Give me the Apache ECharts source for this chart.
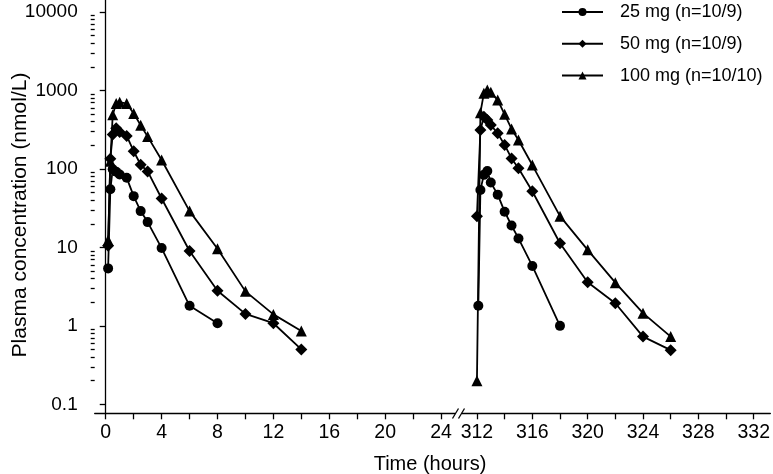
<!DOCTYPE html>
<html>
<head>
<meta charset="utf-8">
<script src="https://cdn.jsdelivr.net/npm/echarts@6/dist/echarts.min.js"></script>
<style>html,body{margin:0;padding:0;background:#fff}#c{width:773px;height:474px}</style>
</head>
<body>
<div id="c"></div>
<script>
// ---- data ----
const seriesNames = ['25 mg (n=10/9)', '50 mg (n=10/9)', '100 mg (n=10/10)'];
const seriesSymbols = ['circle', 'diamond', 'triangle'];

// period 1 (first dose)
const p1Times25 = [0.17, 0.33, 0.5, 0.75, 1, 1.5, 2, 2.5, 3, 4, 6, 8];
const p1Conc25 = [5.4, 55, 99, 92, 85, 77, 45, 29, 21, 9.8, 1.8, 1.08];
const p1Times50 = [0.17, 0.33, 0.5, 0.75, 1, 1.5, 2, 2.5, 3, 4, 6, 8, 10, 12, 14];
const p1Conc50 = [10.5, 135, 275, 330, 295, 263, 168, 113, 93, 42, 9, 2.8, 1.42, 1.08, 0.5];
const p1Times100 = [0.17, 0.33, 0.5, 0.75, 1, 1.5, 2, 2.5, 3, 4, 6, 8, 10, 12, 14];
const p1Conc100 = [12.3, 125, 490, 680, 710, 680, 510, 360, 258, 130, 29, 9.6, 2.75, 1.4, 0.86];

// period 2 (last dose)
const p2Times25 = [312.1, 312.25, 312.5, 312.75, 313, 313.5, 314, 314.5, 315, 316, 318];
const p2Conc25 = [1.8, 54, 84, 94, 67, 47, 28.5, 19, 13, 5.8, 1.0];
const p2Times50 = [312, 312.25, 312.5, 312.75, 313, 313.5, 314, 314.5, 315, 316, 318, 320, 322, 324, 326];
const p2Conc50 = [25, 313, 463, 420, 363, 284, 202, 136, 102, 52, 11.3, 3.6, 1.94, 0.73, 0.49];
const p2Times100 = [312, 312.25, 312.5, 312.75, 313, 313.5, 314, 314.5, 315, 316, 318, 320, 322, 324, 326];
const p2Conc100 = [0.2, 521, 920, 1014, 946, 755, 497, 323, 234, 112, 25, 9.3, 3.55, 1.45, 0.73];

// ticks
const yMajorTicks = [0.1, 1, 10, 100, 1000, 10000];
const yMinorTicks = [];
[0.1, 1, 10, 100, 1000].forEach(d => { for (let k = 2; k <= 9; k++) yMinorTicks.push(+(d * k).toPrecision(3)); });
const xTicksA = [0, 2, 4, 6, 8, 10, 12, 14, 16, 18, 20, 22, 24];
const xLabelsA = [0, 4, 8, 12, 16, 20, 24];
const xTicksB = [312, 314, 316, 318, 320, 322, 324, 326, 328, 330, 332];
const xLabelsB = [312, 316, 320, 324, 328, 332];

const yAxisTitle = 'Plasma concentration (nmol/L)';
const xAxisTitle = 'Time (hours)';

// ---- chart ----
const FONT = '"Liberation Sans", Arial, Helvetica, sans-serif';
const Y_MIN = 0.0768, Y_MAX = 14220;
const pairs = (t, c) => t.map((v, i) => [v, c[i]]);
const p1 = [pairs(p1Times25, p1Conc25), pairs(p1Times50, p1Conc50), pairs(p1Times100, p1Conc100)];
const p2 = [pairs(p2Times25, p2Conc25), pairs(p2Times50, p2Conc50), pairs(p2Times100, p2Conc100)];
const symSizes = [10, 12, 11];

const series = [];
[p1, p2].forEach((period, gi) => {
  period.forEach((d, si) => {
    series.push({
      type: 'line', name: seriesNames[si], data: d,
      xAxisIndex: gi, yAxisIndex: gi === 0 ? 0 : 2,
      symbol: seriesSymbols[si], symbolSize: symSizes[si],
      showAllSymbol: true,
      lineStyle: { color: '#000', width: 1.8 },
      itemStyle: { color: '#000', borderWidth: 0 },
      emphasis: { disabled: true },
      animation: false
    });
  });
});

const axisLineStyle = { color: '#000', width: 1.3 };
const xAxisCommon = (min, max, ticks, labels) => ({
  type: 'value', min, max,
  axisLine: { show: true, onZero: false, lineStyle: axisLineStyle },
  axisTick: { show: true, customValues: ticks, length: 6, lineStyle: axisLineStyle },
  axisLabel: { customValues: labels, margin: 9, fontSize: 19.5, color: '#000', fontFamily: FONT },
  splitLine: { show: false }
});

const chart = echarts.init(document.getElementById('c'), null, { renderer: 'canvas' });
chart.setOption({
  backgroundColor: '#fff',
  animation: false,
  textStyle: { fontFamily: FONT },
  grid: [
    { left: 94.7, right: 773 - 455, top: 0, bottom: 474 - 413.3 },
    { left: 462, right: 1, top: 0, bottom: 474 - 413.3 }
  ],
  legend: {
    orient: 'vertical', left: 561, top: 3, padding: 0,
    itemWidth: 41, itemHeight: 10, itemGap: 13.8,
    data: seriesNames,
    textStyle: { fontSize: 18, color: '#000', fontFamily: FONT, padding: [0, 0, 0, 12] },
    selectedMode: false
  },
  xAxis: [
    Object.assign(xAxisCommon(-0.79, 25.0, xTicksA, xLabelsA), { gridIndex: 0 }),
    Object.assign(xAxisCommon(310.92, 333.2, xTicksB, xLabelsB), { gridIndex: 1 })
  ],
  yAxis: [
    {
      type: 'log', gridIndex: 0, position: 'left', min: Y_MIN, max: Y_MAX, logBase: 10,
      axisLine: { show: true, lineStyle: axisLineStyle },
      axisTick: { show: true, customValues: yMajorTicks, length: 6, lineStyle: axisLineStyle },
      axisLabel: {
        customValues: yMajorTicks, margin: 17, fontSize: 19, color: '#000', fontFamily: FONT,
        formatter: v => String(+(+v).toPrecision(3))
      },
      splitLine: { show: false }, minorTick: { show: false }
    },
    {
      type: 'log', gridIndex: 0, position: 'left', min: Y_MIN, max: Y_MAX, logBase: 10,
      axisLine: { show: false },
      axisTick: { show: true, customValues: yMinorTicks, length: 4, lineStyle: axisLineStyle },
      axisLabel: { show: false },
      splitLine: { show: false }
    },
    {
      type: 'log', gridIndex: 1, min: Y_MIN, max: Y_MAX, logBase: 10, show: false,
      splitLine: { show: false }
    }
  ],
  graphic: [
    { type: 'line', shape: { x1: 452.5, y1: 418.5, x2: 458.5, y2: 408.5 }, style: { stroke: '#000', lineWidth: 1.3 } },
    { type: 'line', shape: { x1: 458.5, y1: 418.5, x2: 464.5, y2: 408.5 }, style: { stroke: '#000', lineWidth: 1.3 } },
    { type: 'text', x: 430, y: 464, style: { text: xAxisTitle, fill: '#000', font: '20px ' + FONT, textAlign: 'center', textVerticalAlign: 'middle' } },
    { type: 'text', x: 20, y: 215, rotation: Math.PI / 2, style: { text: yAxisTitle, fill: '#000', font: '21px ' + FONT, textAlign: 'center', textVerticalAlign: 'middle' } }
  ],
  series
});
</script>
</body>
</html>
